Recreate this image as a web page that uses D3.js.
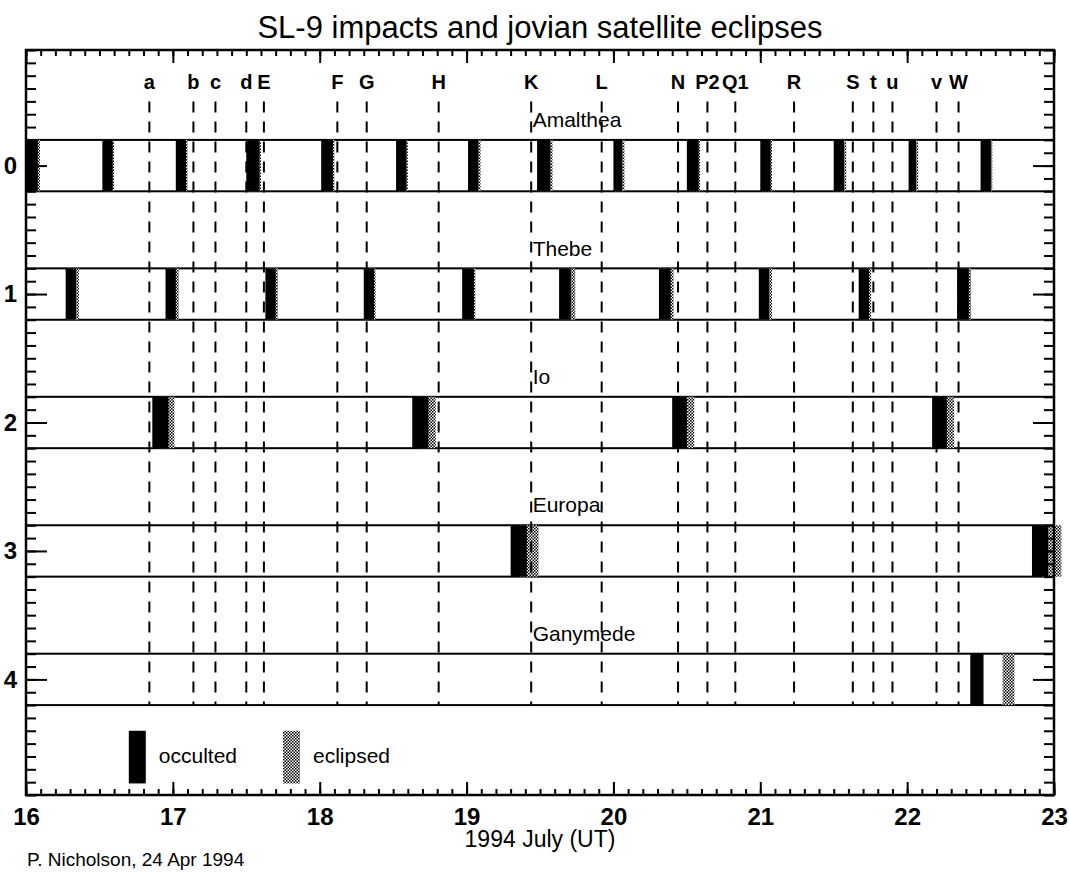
<!DOCTYPE html>
<html>
<head>
<meta charset="utf-8">
<script src="https://cdn.jsdelivr.net/npm/d3@7"></script>
<style>
  body { margin: 0; background: #fff; }
  svg { display: block; background: #fff; }
</style>
</head>
<body>
<svg width="1069" height="876"></svg>
<script>
const days = [16, 17, 18, 19, 20, 21, 22, 23];
const rows = [0, 1, 2, 3, 4];
const satellites = ["Amalthea", "Thebe", "Io", "Europa", "Ganymede"];

const impactLabels = ["a", "b", "c", "d", "E", "F", "G", "H", "K", "L",
    "N", "P2", "Q1", "R", "S", "t", "u", "v", "W"];
const impactTimes = [16.84, 17.14, 17.29, 17.50, 17.62, 18.12, 18.32, 18.81, 19.44, 19.92,
    20.44, 20.64, 20.83, 21.23, 21.63, 21.77, 21.90, 22.20, 22.35];

// [start, end] in days of July 1994 (UT)
const amaltheaOcculted = [[16.00, 16.08], [16.52, 16.59], [17.02, 17.09], [17.50, 17.59],
    [18.01, 18.09], [18.52, 18.59], [19.01, 19.08], [19.48, 19.57], [20.00, 20.06],
    [20.50, 20.58], [21.00, 21.07], [21.50, 21.57], [22.01, 22.06], [22.50, 22.57]];
const amaltheaEclipsed = [[16.00, 16.095], [16.53, 16.60], [17.03, 17.10], [17.51, 17.60],
    [18.02, 18.10], [18.53, 18.60], [19.02, 19.095], [19.49, 19.585], [20.01, 20.075],
    [20.51, 20.59], [21.01, 21.08], [21.51, 21.585], [22.02, 22.075], [22.51, 22.58]];
const thebeOcculted = [[16.27, 16.34], [16.95, 17.02], [17.63, 17.70], [18.30, 18.37],
    [18.97, 19.05], [19.63, 19.71], [20.31, 20.39], [20.99, 21.06], [21.67, 21.74],
    [22.34, 22.42]];
const thebeEclipsed = [[16.28, 16.36], [16.96, 17.04], [17.64, 17.715], [18.31, 18.38],
    [18.98, 19.06], [19.64, 19.74], [20.32, 20.41], [21.00, 21.08], [21.68, 21.755],
    [22.35, 22.435]];
const ioOcculted = [[16.86, 16.97], [18.63, 18.74], [20.40, 20.50], [22.17, 22.27]];
const ioEclipsed = [[16.90, 17.01], [18.67, 18.79], [20.44, 20.55], [22.21, 22.32]];
const europaOcculted = [[19.30, 19.41], [22.85, 22.96]];
const europaEclipsed = [[19.36, 19.49], [22.91, 23.05]];
const ganymedeOcculted = [[22.43, 22.52]];
const ganymedeEclipsed = [[22.65, 22.73]];

const occulted = [amaltheaOcculted, thebeOcculted, ioOcculted, europaOcculted, ganymedeOcculted];
const eclipsed = [amaltheaEclipsed, thebeEclipsed, ioEclipsed, europaEclipsed, ganymedeEclipsed];
const legendLabels = ["occulted", "eclipsed"];

const font = "'Liberation Sans', Arial, Helvetica, sans-serif";
const halfStrip = 0.2;

let svg = d3.select("svg").attr("font-family", font);
let x = d3.scaleLinear([16, 23], [26, 1054]);
let y = d3.scaleLinear([-0.9, 4.9], [50, 795]);

const stipple = selection => {
    let p = selection.append("defs").append("pattern")
        .attr("id", "stipple")
        .attr("patternUnits", "userSpaceOnUse")
        .attr("width", 3).attr("height", 3);
    p.append("rect").attr("width", 3).attr("height", 3).attr("fill", "#fff");
    p.append("rect").attr("width", 1.5).attr("height", 1.5).attr("fill", "#000");
    p.append("rect").attr("x", 1.5).attr("y", 1.5).attr("width", 1.5).attr("height", 1.5).attr("fill", "#000");
}

const strips = selection => {
    selection.selectAll(".strip")
        .data(rows)
        .join("rect")
        .attr("class", "strip")
        .attr("x", x(16)).attr("width", x(23) - x(16))
        .attr("y", r => y(r - halfStrip))
        .attr("height", r => y(r + halfStrip) - y(r - halfStrip))
        .attr("fill", "#fff")
        .attr("stroke", "#000")
        .attr("stroke-width", 2);
}

const events = (cls, table, fill) => selection => {
    let data = rows.flatMap(r => table[r].map(([a, b]) => ({ row: r, a, b })));
    selection.selectAll("." + cls)
        .data(data)
        .join("rect")
        .attr("class", cls)
        .attr("x", d => x(d.a))
        .attr("width", d => x(d.b) - x(d.a))
        .attr("y", d => y(d.row - halfStrip))
        .attr("height", d => y(d.row + halfStrip) - y(d.row - halfStrip))
        .attr("fill", fill);
}

const names = selection => {
    selection.selectAll(".name")
        .data(satellites)
        .join("text")
        .attr("class", "name")
        .attr("x", x(19.45))
        .attr("y", (d, i) => y(rows[i] - 0.3))
        .attr("font-size", 21)
        .text(d => d);
}

const impacts = selection => {
    selection.selectAll(".impact")
        .data(impactTimes)
        .join("line")
        .attr("class", "impact")
        .attr("x1", x).attr("x2", x)
        .attr("y1", y(-0.5)).attr("y2", y(4.2))
        .attr("stroke", "#000")
        .attr("stroke-width", 2)
        .attr("stroke-dasharray", "11 9");
    selection.selectAll(".impact-label")
        .data(impactLabels)
        .join("text")
        .attr("class", "impact-label")
        .attr("x", (d, i) => x(impactTimes[i]))
        .attr("y", y(-0.6))
        .attr("text-anchor", "middle")
        .attr("font-size", 20)
        .attr("font-weight", "bold")
        .text(d => d);
}

const styleAxis = (g, size) => {
    g.select(".domain").remove();
    g.selectAll(".tick line").attr("stroke", "#000").attr("stroke-width", 2);
    g.attr("font-family", font).attr("font-size", size).attr("font-weight", "bold");
    g.selectAll(".tick text").attr("fill", "#000");
}

const axes = selection => {
    let fine = x.ticks(70);
    let fineY = y.ticks(58);
    selection.append("g")
        .attr("transform", `translate(0,${y(4.9)})`)
        .call(d3.axisBottom(x).tickValues(fine).tickSize(-6).tickFormat(""))
        .call(g => styleAxis(g, 24));
    selection.append("g")
        .attr("transform", `translate(0,${y(4.9)})`)
        .call(d3.axisBottom(x).tickValues(days).tickSize(-13).tickPadding(13).tickFormat(d3.format("d")))
        .call(g => styleAxis(g, 24));
    selection.append("g")
        .attr("transform", `translate(0,${y(-0.9)})`)
        .call(d3.axisTop(x).tickValues(fine).tickSize(-6).tickFormat(""))
        .call(g => styleAxis(g, 24));
    selection.append("g")
        .attr("transform", `translate(0,${y(-0.9)})`)
        .call(d3.axisTop(x).tickValues(days).tickSize(-13).tickFormat(""))
        .call(g => styleAxis(g, 24));
    selection.append("g")
        .attr("transform", `translate(${x(16)},0)`)
        .call(d3.axisLeft(y).tickValues(fineY).tickSize(-10).tickFormat(""))
        .call(g => styleAxis(g, 24));
    selection.append("g")
        .attr("transform", `translate(${x(16)},0)`)
        .call(d3.axisLeft(y).tickValues(rows).tickSize(-21).tickPadding(9).tickFormat(d3.format("d")))
        .call(g => styleAxis(g, 24));
    selection.append("g")
        .attr("transform", `translate(${x(23)},0)`)
        .call(d3.axisRight(y).tickValues(fineY).tickSize(-10).tickFormat(""))
        .call(g => styleAxis(g, 24));
    selection.append("g")
        .attr("transform", `translate(${x(23)},0)`)
        .call(d3.axisRight(y).tickValues(rows).tickSize(-21).tickFormat(""))
        .call(g => styleAxis(g, 24));
    selection.append("rect")
        .attr("x", x(16)).attr("y", y(-0.9))
        .attr("width", x(23) - x(16)).attr("height", y(4.9) - y(-0.9))
        .attr("fill", "none")
        .attr("stroke", "#000")
        .attr("stroke-width", 2.5);
}

const legend = selection => {
    let fills = ["#000", "url(#stipple)"];
    let starts = [16.70, 17.75];
    let g = selection.selectAll(".legend")
        .data(legendLabels)
        .join("g")
        .attr("class", "legend")
        .attr("transform", (d, i) => `translate(${x(starts[i])},0)`);
    g.append("rect")
        .attr("y", y(4.4))
        .attr("width", 17)
        .attr("height", y(4.81) - y(4.4))
        .attr("fill", (d, i) => fills[i]);
    g.append("text")
        .attr("x", 30)
        .attr("y", y(4.65))
        .attr("font-size", 21)
        .text(d => d);
}

const labels = selection => {
    selection.append("text")
        .attr("x", (x(16) + x(23)) / 2).attr("y", 38)
        .attr("text-anchor", "middle")
        .attr("font-size", 31)
        .text("SL-9 impacts and jovian satellite eclipses");
    selection.append("text")
        .attr("x", (x(16) + x(23)) / 2).attr("y", 847)
        .attr("text-anchor", "middle")
        .attr("font-size", 23)
        .text("1994 July (UT)");
    selection.append("text")
        .attr("x", 27).attr("y", 866)
        .attr("font-size", 19)
        .text("P. Nicholson, 24 Apr 1994");
}

svg
    .call(stipple)
    .call(strips)
    .call(events("eclipse", eclipsed, "url(#stipple)"))
    .call(events("occult", occulted, "#000"))
    .call(impacts)
    .call(names)
    .call(legend)
    .call(axes)
    .call(labels);
</script>
</body>
</html>
